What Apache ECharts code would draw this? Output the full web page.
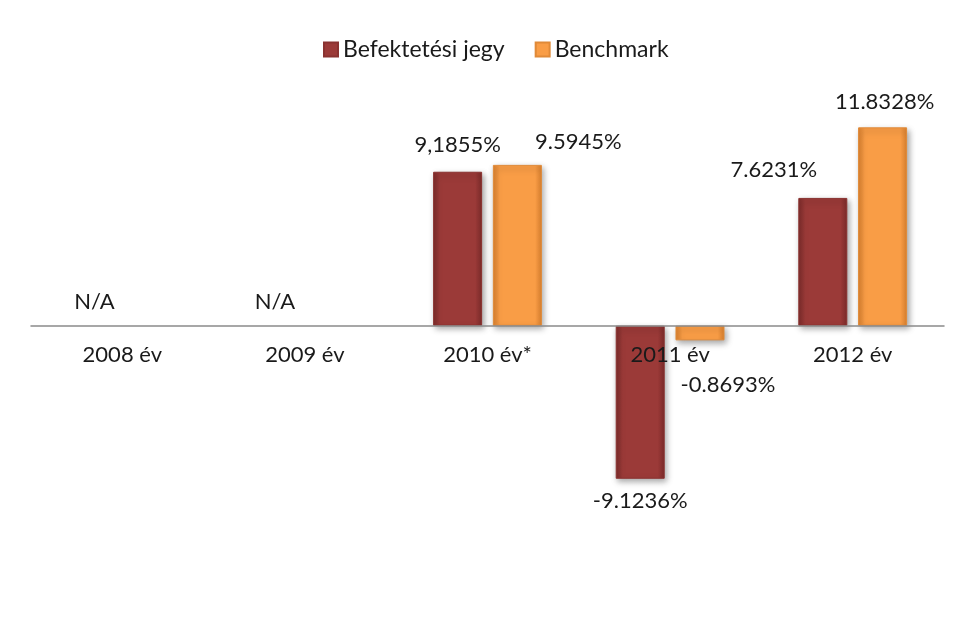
<html lang="hu">
<head>
	<meta charset="UTF-8">
	<script src="https://cdn.jsdelivr.net/npm/echarts@6/dist/echarts.min.js"></script>
	<title>Hozamok</title>
</head>
<body style="margin:0;background:#fff">
<div id="pic" style="width:962px;height:621px"></div>
<script>
	"use strict";

	// adatok
	const years=["2008 év","2009 év","2010 év*","2011 év","2012 év"];
	const names=["Befektetési jegy","Benchmark"];
	const fund=[null,null,9.1855,-9.1236,7.6231];
	const bench=[null,null,9.5945,-0.8693,11.8328];
	const fundText=["N/A","N/A","9,1855%","-9.1236%","7.6231%"];
	const benchText=["","","9.5945%","-0.8693%","11.8328%"];

	// címkék eltolása (kézzel igazítva, mint az eredetin)
	const fundOff=[[2,-8],[0,-8],[0,-11],[0,6],[-49,-12]];
	const benchOff=[[0,0],[0,0],[61,-7],[28,29],[2,-9]];

	const FONT="Lato";
	const YMIN=-12,YMAX=14,TOP=91,BOTTOM=94,H=621;

	function grad(edge,mid)
	{
		return {
			type:"linear",x:0,y:0,x2:1,y2:0,
			colorStops:[
				{offset:0,color:edge},
				{offset:0.14,color:mid},
				{offset:0.86,color:mid},
				{offset:1,color:edge}
			]
		};
	}

	function build(vals,txt,off)
	{
		let d=[];
		for(let i=0; i<vals.length; i++)
		{
			let na=vals[i]===null;
			let v=na?0:vals[i];
			let o={
				value:v,
				label:{
					show:txt[i]!=="",
					formatter:txt[i],
					position:v<0?"bottom":"top",
					offset:off[i]
				}
			};
			if(na)
			{o.itemStyle={color:"transparent",borderWidth:0,shadowBlur:0,shadowOffsetX:0,shadowOffsetY:0};}
			d.push(o);
		}
		return d;
	}

	// a kategória tengelyt a nullához toljuk
	let plotH=H-TOP-BOTTOM;
	let zeroUp=plotH*(0-YMIN)/(YMAX-YMIN);

	let pic=echarts.init(document.getElementById("pic"));
	let lbl={fontFamily:FONT,fontSize:22,color:"#1a1a1a"};
	let option=
		{
			animation:false,
			backgroundColor:"#fff",
			textStyle:{fontFamily:FONT},
			legend:{
				top:33,left:318,
				icon:"rect",itemWidth:14,itemHeight:14,itemGap:30,
				textStyle:{fontFamily:FONT,fontSize:23,color:"#1a1a1a"},
				data:names
			},
			grid:{left:31,right:18,top:TOP,bottom:BOTTOM},
			xAxis:{
				type:"category",
				data:years,
				position:"bottom",
				offset:-zeroUp,
				z:10,
				axisTick:{show:false},
				axisLine:{onZero:false,lineStyle:{color:"#8a8a8a",width:1.5}},
				axisLabel:{fontFamily:FONT,fontSize:22,color:"#1a1a1a",margin:18}
			},
			yAxis:{
				type:"value",min:YMIN,max:YMAX,interval:2,show:false,
				splitLine:{show:false}
			},
			series:[
				{
					name:names[0],type:"bar",barWidth:49,barGap:"22%",
					itemStyle:{
						color:grad("#7c2b2a","#9b3a38"),
						borderColor:"#8a3230",borderWidth:1,
						shadowColor:"rgba(0,0,0,0.35)",shadowBlur:6,shadowOffsetX:2,shadowOffsetY:3
					},
					label:lbl,
					data:build(fund,fundText,fundOff)
				},
				{
					name:names[1],type:"bar",barWidth:49,
					itemStyle:{
						color:grad("#d9802f","#f99d46"),
						borderColor:"#e08a38",borderWidth:1,
						shadowColor:"rgba(0,0,0,0.35)",shadowBlur:6,shadowOffsetX:2,shadowOffsetY:3
					},
					label:lbl,
					data:build(bench,benchText,benchOff)
				}
			]
		};
	pic.setOption(option);
</script>
</body>
</html>
